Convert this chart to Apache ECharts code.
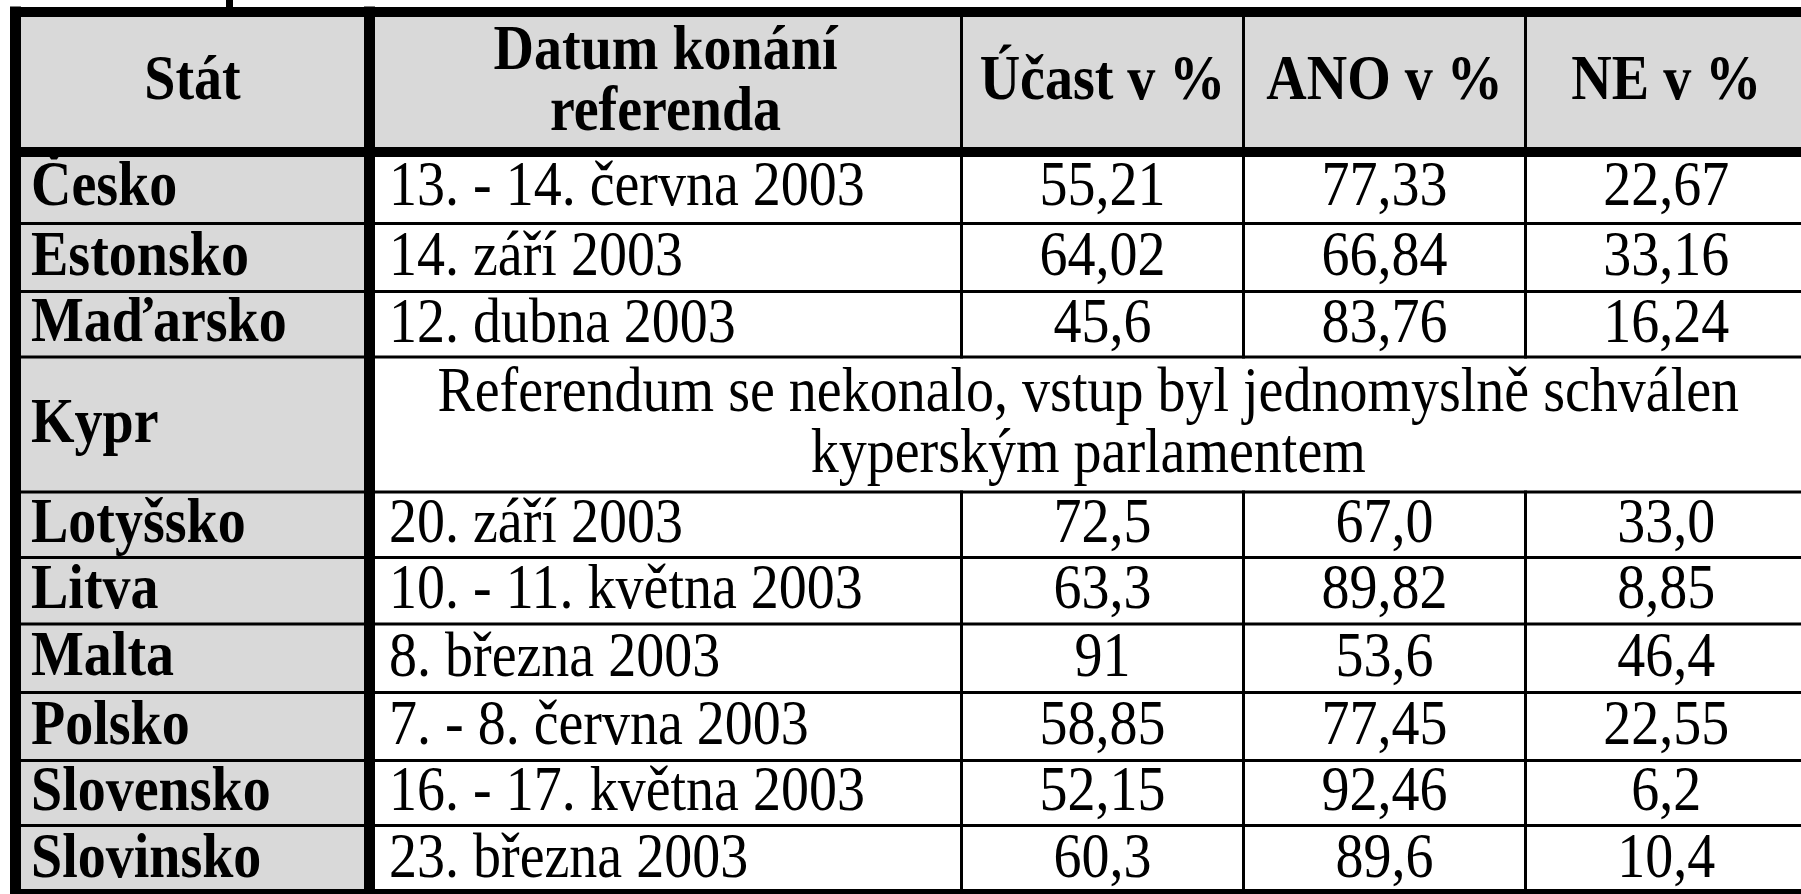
<!DOCTYPE html>
<html><head><meta charset="utf-8">
<script src="https://cdn.jsdelivr.net/npm/echarts@6/dist/echarts.min.js"></script>
<style>html,body{margin:0;padding:0;background:#fff;overflow:hidden}#c{width:1801px;height:894px}</style>
</head><body><div id="c"></div>
<script>
// ---- data ----
const headers = ['Stát', 'Datum konání\nreferenda', 'Účast v %', 'ANO v %', 'NE v %'];
const states = ['Česko', 'Estonsko', 'Maďarsko', 'Kypr', 'Lotyšsko', 'Litva', 'Malta', 'Polsko', 'Slovensko', 'Slovinsko'];
const dates = ['13. - 14. června 2003', '14. září 2003', '12. dubna 2003', null, '20. září 2003', '10. - 11. května 2003', '8. března 2003', '7. - 8. června 2003', '16. - 17. května 2003', '23. března 2003'];
const turnout = ['55,21', '64,02', '45,6', null, '72,5', '63,3', '91', '58,85', '52,15', '60,3'];
const yesPct = ['77,33', '66,84', '83,76', null, '67,0', '89,82', '53,6', '77,45', '92,46', '89,6'];
const noPct = ['22,67', '33,16', '16,24', null, '33,0', '8,85', '46,4', '22,55', '6,2', '10,4'];
const notes = ['', '', '', 'Referendum se nekonalo, vstup byl jednomyslně schválen\nkyperským parlamentem', '', '', '', '', '', ''];

// ---- layout (table geometry in the chart's value space) ----
const colEdges = [15.5, 369.5, 961.5, 1243.5, 1525.5, 1807];
const rowEdges = [12, 152, 223.5, 291.5, 357, 492, 557.5, 624, 692.5, 760.5, 825.5, 894];
const colPad = [10, 14, 0, 0, 0];
const FONT = 'Liberation Serif';
const FS = 56;
const STRETCH = 1.12;
const GRAY = '#d9d9d9';

// cells: [col, row, span, text, kind]
const cells = [];
headers.forEach((h, c) => cells.push([c, 0, 1, h, 'head']));
states.forEach((s, i) => {
  const r = i + 1;
  cells.push([0, r, 1, s, 'state']);
  if (notes[i]) {
    cells.push([1, r, 4, notes[i], 'note']);
  } else {
    cells.push([1, r, 1, dates[i], 'date']);
    cells.push([2, r, 1, turnout[i], 'num']);
    cells.push([3, r, 1, yesPct[i], 'num']);
    cells.push([4, r, 1, noPct[i], 'num']);
  }
});

function vWidth(j) { return (j === 0 || j === 1) ? 11 : 3; }
function hWidth(i) { return (i === 0 || i === 1 || i === rowEdges.length - 1) ? 10 : 3; }

// border segments derived from the table structure: [x1, y1, x2, y2, width]
const segs = [];
rowEdges.forEach((y, i) => segs.push([colEdges[0], y, colEdges[colEdges.length - 1], y, hWidth(i)]));
colEdges.forEach((x, j) => {
  if (j === 0 || j === 1 || j === colEdges.length - 1) {
    segs.push([x, rowEdges[0], x, rowEdges[rowEdges.length - 1], vWidth(j)]);
  } else {
    let start = 0;
    for (let r = 1; r < rowEdges.length; r++) {
      const rowIdx = r - 1;
      const merged = rowIdx >= 1 && notes[rowIdx - 1];
      if (merged) {
        if (r - 1 > start) segs.push([x, rowEdges[start], x, rowEdges[r - 1], vWidth(j)]);
        start = r;
      }
    }
    segs.push([x, rowEdges[start], x, rowEdges[rowEdges.length - 1], vWidth(j)]);
  }
});
segs.push([229.5, -5, 229.5, rowEdges[0], 7]);

function renderCell(params, api) {
  const d = cells[params.dataIndex];
  const c = d[0], r = d[1], span = d[2], text = d[3], kind = d[4];
  const p0 = api.coord([colEdges[c], rowEdges[r]]);
  const p1 = api.coord([colEdges[c + span], rowEdges[r + 1]]);
  const xL = p0[0], yT = p0[1], xR = p1[0], yB = p1[1];
  const gray = kind === 'head' || kind === 'state';
  const bold = gray;
  const left = kind === 'state' || kind === 'date';
  const tx = left ? xL + vWidth(c) / 2 + colPad[c] : (xL + xR) / 2;
  const ty = (yT + yB) / 2 + 1;
  return {
    type: 'group',
    children: [
      { type: 'rect', shape: { x: xL, y: yT, width: xR - xL, height: yB - yT }, style: { fill: gray ? GRAY : '#fff' } },
      { type: 'text', x: tx, y: ty, scaleX: 1, scaleY: STRETCH,
        style: {
          text: text, x: 0, y: 0, align: left ? 'left' : 'center', verticalAlign: 'middle',
          fontFamily: FONT, fontSize: FS, fontWeight: bold ? 'bold' : 'normal', fill: '#000', lineHeight: 61 / STRETCH
        } }
    ]
  };
}

function renderSeg(params, api) {
  const s = segs[params.dataIndex];
  const a = api.coord([s[0], s[1]]);
  const b = api.coord([s[2], s[3]]);
  return {
    type: 'line',
    shape: { x1: a[0], y1: a[1], x2: b[0], y2: b[1] },
    style: { stroke: '#000', lineWidth: s[4], lineCap: 'square' }
  };
}

const chart = echarts.init(document.getElementById('c'), null, { renderer: 'canvas' });
chart.setOption({
  animation: false,
  backgroundColor: '#fff',
  grid: { left: 0, right: 0, top: 0, bottom: 0 },
  xAxis: { type: 'value', min: 0, max: 1801, show: false },
  yAxis: { type: 'value', min: 0, max: 894, inverse: true, show: false },
  series: [
    { type: 'custom', renderItem: renderCell, data: cells.map((c, i) => [i]), silent: true, z: 1, clip: false },
    { type: 'custom', renderItem: renderSeg, data: segs.map((s, i) => [i]), silent: true, z: 2, clip: false }
  ]
});
</script>
</body></html>
